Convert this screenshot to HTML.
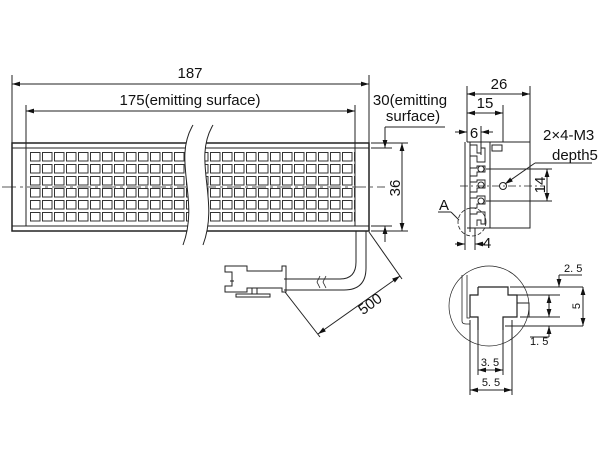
<!DOCTYPE html>
<html><head><meta charset="utf-8"><style>
html,body{margin:0;padding:0;background:#fff;width:600px;height:450px;overflow:hidden}
text{font-family:"Liberation Sans",sans-serif;fill:#111}
</style></head><body>
<svg width="600" height="450" viewBox="0 0 600 450" xmlns="http://www.w3.org/2000/svg">
<defs>
<pattern id="led" x="30" y="152" width="12" height="12" patternUnits="userSpaceOnUse">
<rect x="0.5" y="0.5" width="9.5" height="8.5" fill="none" stroke="#333" stroke-width="1"/>
</pattern>
<marker id="a" viewBox="0 0 10 6" refX="10" refY="3" markerWidth="8" markerHeight="5" orient="auto-start-reverse" markerUnits="userSpaceOnUse"><path d="M0,0L10,3L0,6z" fill="#111"/></marker>
</defs>
<g stroke="#222" fill="none" stroke-width="1">
<line x1="12" y1="75" x2="12" y2="143"/><line x1="369" y1="75" x2="369" y2="143"/>
<line x1="12" y1="84" x2="369" y2="84" marker-start="url(#a)" marker-end="url(#a)"/>
<line x1="26" y1="105" x2="26" y2="148"/><line x1="355" y1="105" x2="355" y2="148"/>
<line x1="26" y1="111" x2="355" y2="111" marker-start="url(#a)" marker-end="url(#a)"/>
<rect x="12" y="143" width="357" height="88" stroke-width="1.5"/>
<line x1="12" y1="148" x2="369" y2="148"/><line x1="12" y1="226" x2="369" y2="226"/>
<line x1="26" y1="148" x2="26" y2="226"/><line x1="355" y1="148" x2="355" y2="226"/>
<rect x="30" y="152" width="325" height="72" fill="url(#led)" stroke="none"/>
<line x1="2" y1="187" x2="385" y2="187" stroke-dasharray="14,4,3,4" stroke-width="0.8"/>
<path d="M193,125 C172,160 200,200 183,245 L203,245 C220,200 192,160 213,125 Z" fill="#fff" stroke="none"/>
<path d="M193,125 C172,160 200,200 183,245"/><path d="M213,125 C192,160 220,200 203,245"/>
<line x1="371" y1="143" x2="408" y2="143"/><line x1="371" y1="231" x2="408" y2="231"/>
<line x1="371" y1="148" x2="392" y2="148"/><line x1="371" y1="226" x2="392" y2="226"/>
<line x1="402" y1="143" x2="402" y2="231" marker-start="url(#a)" marker-end="url(#a)"/>
<line x1="385" y1="127" x2="385" y2="148" marker-end="url(#a)"/>
<line x1="385" y1="127" x2="445" y2="127"/>
<line x1="385" y1="242" x2="385" y2="226" marker-end="url(#a)"/>
<path d="M356,231 L356,262 Q356,279 340,279 L284,279"/>
<path d="M366,231 L366,268 Q366,290 344,290 L284,290"/>
<path d="M320,276 l-3,6 l3,6 M326,276 l-3,6 l3,6" stroke-width="0.8"/>
<path d="M225,266 L247,266 L247,271 L282,271 L282,266 L286,266 L286,292 L282,292 L282,288 L247,288 L247,292 L225,292 L225,286 L232,286 L232,272 L225,272 Z"/>
<rect x="236" y="294" width="34" height="3"/><line x1="252" y1="288" x2="252" y2="294"/><line x1="257" y1="288" x2="257" y2="294"/>
<line x1="230" y1="281" x2="234" y2="281"/>
<line x1="285" y1="292" x2="320" y2="337"/><line x1="369" y1="232" x2="402" y2="279"/>
<line x1="318" y1="334" x2="400" y2="276" marker-start="url(#a)" marker-end="url(#a)"/>
<line x1="467" y1="86" x2="467" y2="142"/><line x1="530" y1="86" x2="530" y2="142"/>
<line x1="467" y1="94" x2="530" y2="94" marker-start="url(#a)" marker-end="url(#a)"/>
<line x1="503" y1="105" x2="503" y2="142"/>
<line x1="467" y1="113" x2="503" y2="113" marker-start="url(#a)" marker-end="url(#a)"/>
<line x1="481" y1="126" x2="481" y2="155"/>
<line x1="455" y1="132" x2="467" y2="132" marker-end="url(#a)"/><line x1="493" y1="132" x2="481" y2="132" marker-end="url(#a)"/>
<rect x="490" y="142" width="40" height="86"/>
<line x1="467" y1="142" x2="530" y2="142"/><line x1="467" y1="228" x2="530" y2="228"/>
<path d="M465,142 L465,232 M470,142 L470,232"/>
<path d="M470,145 h7 v8 h4 v-5 h4 v14 h-8 v-6 h-7 M470,168 h7 v-2 h8 v6 h-8 v4 h-7 M470,182 h7 v-2 h8 v8 h-8 v4 h-7 M470,198 h7 v-2 h8 v8 h-8 v4 h-7 M470,214 h7 v-2 h8 v12 h-4 v-4 h-4 v6" stroke-width="0.9"/>
<circle cx="481" cy="169" r="3"/><circle cx="481" cy="185" r="3"/><circle cx="481" cy="201" r="3"/>
<circle cx="503" cy="186" r="3.5"/>
<line x1="486" y1="169" x2="552" y2="169"/><line x1="486" y1="201" x2="552" y2="201"/>
<line x1="460" y1="186" x2="545" y2="186" stroke-dasharray="8,3,2,3" stroke-width="0.8"/>
<line x1="547" y1="169" x2="547" y2="201" marker-start="url(#a)" marker-end="url(#a)"/>
<line x1="505" y1="184" x2="535" y2="163" marker-start="url(#a)"/><line x1="535" y1="163" x2="592" y2="163"/>
<rect x="492" y="145" width="10" height="6"/>
<circle cx="472" cy="222" r="14" stroke-dasharray="4,2" stroke-width="0.8"/>
<line x1="438" y1="212" x2="451" y2="212"/><line x1="451" y1="212" x2="459" y2="220"/>
<line x1="465" y1="232" x2="465" y2="250"/><line x1="475" y1="228" x2="475" y2="250"/>
<line x1="455" y1="244" x2="465" y2="244" marker-end="url(#a)"/><line x1="485" y1="244" x2="475" y2="244" marker-end="url(#a)"/>
<circle cx="489" cy="306" r="40" stroke-width="0.7"/>
<path d="M462,275 L462,321 Q462,324 466,324 L470,324 M467,275 L467,318 L470,318" stroke-width="0.8"/>
<path d="M478,287 L508,287 L508,295 L517,295 L517,317 L503,317 L503,330 M478,287 L478,295 L470,295 L470,317 L478,317 L478,330" stroke-width="1.2"/>
<path d="M510,287 L583,287 M517,295 L560,295 M520,317 L560,317 M505,326 L583,326 M517,303 L529,303 L529,317"/>
<line x1="478" y1="330" x2="478" y2="375"/><line x1="503" y1="330" x2="503" y2="375"/>
<line x1="470" y1="320" x2="470" y2="395"/><line x1="512" y1="320" x2="512" y2="395"/>
<line x1="478" y1="370" x2="503" y2="370" marker-start="url(#a)" marker-end="url(#a)"/>
<line x1="470" y1="390" x2="512" y2="390" marker-start="url(#a)" marker-end="url(#a)"/>
<line x1="583" y1="287" x2="583" y2="326" marker-start="url(#a)" marker-end="url(#a)"/>
<line x1="559" y1="275" x2="559" y2="287" marker-end="url(#a)"/><line x1="559" y1="275" x2="582" y2="275"/>
<line x1="549" y1="295" x2="549" y2="317" marker-start="url(#a)" marker-end="url(#a)"/>
<line x1="549" y1="337" x2="549" y2="326" marker-end="url(#a)"/><line x1="530" y1="337" x2="549" y2="337"/>
</g>
<g font-size="15">
<text x="190" y="78" text-anchor="middle">187</text>
<text x="190" y="105" text-anchor="middle">175(emitting surface)</text>
<text x="410" y="105" text-anchor="middle">30(emitting</text>
<text x="413" y="121" text-anchor="middle">surface)</text>
<text transform="translate(400,188) rotate(-90)" text-anchor="middle">36</text>
<text transform="translate(373,308) rotate(-36)" text-anchor="middle">500</text>
<text x="499" y="89" text-anchor="middle">26</text>
<text x="485" y="108" text-anchor="middle">15</text>
<text x="474" y="138" text-anchor="middle">6</text>
<text x="543" y="140">2×4-M3</text>
<text x="552" y="160">depth5</text>
<text transform="translate(545,185) rotate(-90)" text-anchor="middle">14</text>
<text x="439" y="210">A</text>
<text x="487" y="248" text-anchor="middle">4</text>
</g>
<g font-size="11">
<text x="564" y="272">2. 5</text>
<text transform="translate(580,306) rotate(-90)" text-anchor="middle">5</text>
<text x="530" y="345">1. 5</text>
<text x="490" y="366" text-anchor="middle">3. 5</text>
<text x="491" y="386" text-anchor="middle">5. 5</text>
</g>
</svg>
</body></html>
